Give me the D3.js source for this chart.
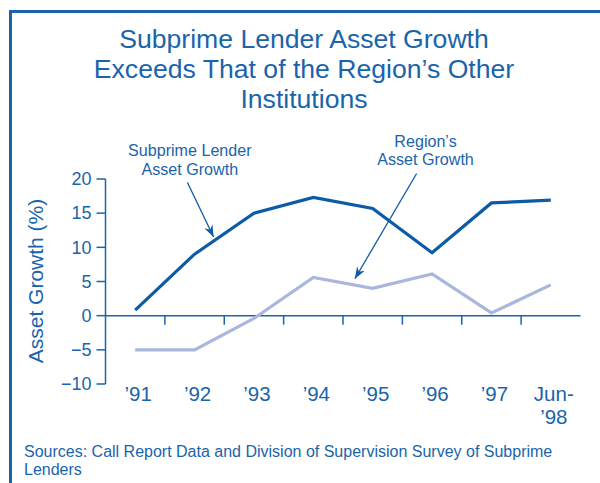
<!DOCTYPE html>
<html>
<head>
<meta charset="utf-8">
<script src="https://cdn.jsdelivr.net/npm/d3@7"></script>
<style>
  body { margin: 0; background: #fff; }
  text { font-family: "Liberation Sans", Arial, sans-serif; fill: #1a64ac; }
</style>
</head>
<body>
<div id="chart"></div>
<script>
// categories and series
var years = ["'91", "'92", "'93", "'94", "'95", "'96", "'97", "Jun-'98"];
var subprime = [0.8, 9.0, 15.0, 17.3, 15.7, 9.2, 16.5, 16.9];
var region = [-5.0, -5.0, -0.4, 5.6, 4.0, 6.1, 0.4, 4.5];
var yTicks = [-10, -5, 0, 5, 10, 15, 20];
var titleLines = ["Subprime Lender Asset Growth", "Exceeds That of the Region\u2019s Other", "Institutions"];

(function() {
	var width = 600, height = 483;
	var blue = "#1a64ac", dark = "#0c5ba6", light = "#aab7dc";

	var svg = d3.select("#chart")
		.append("svg")
		.attr("width", width)
		.attr("height", height);

	// frame (only top and left edges show)
	svg.append("path")
		.attr("d", "M10.5," + height + "V11.5H" + width)
		.attr("fill", "none")
		.attr("stroke", blue)
		.attr("stroke-width", 3);

	// title
	svg.append("g").selectAll("text")
		.data(titleLines)
		.enter()
		.append("text")
		.attr("x", 304)
		.attr("y", function(d, i) { return 48 + i * 29.8; })
		.attr("text-anchor", "middle")
		.attr("font-size", 26.6)
		.text(function(d) { return d; });

	// scales
	var xScale = d3.scaleBand().domain(years).range([105.5, 580.5]);
	var yScale = d3.scaleLinear().domain([-10, 20]).range([384, 179]);
	var cx = function(i) { return xScale(years[0]) + xScale.bandwidth() / 2 + i * xScale.step(); };

	// y axis
	var yAxis = svg.append("g").attr("transform", "translate(105.5,0)");
	yAxis.append("line")
		.attr("y1", yScale(-10)).attr("y2", yScale(20))
		.attr("stroke", blue).attr("stroke-width", 1.5);
	var yt = yAxis.selectAll("g.tick")
		.data(yTicks)
		.enter()
		.append("g")
		.attr("transform", function(d) { return "translate(0," + yScale(d) + ")"; });
	yt.append("line").attr("x1", -9).attr("x2", 0).attr("stroke", blue).attr("stroke-width", 1.5);
	yt.append("text")
		.attr("x", -14)
		.attr("dy", "0.35em")
		.attr("text-anchor", "end")
		.attr("font-size", 18)
		.text(function(d) { return d < 0 ? "\u2212" + Math.abs(d) : d; });

	svg.append("text")
		.attr("transform", "translate(43," + 281 + ") rotate(-90)")
		.attr("text-anchor", "middle")
		.attr("font-size", 21)
		.text("Asset Growth (%)");

	// x axis along zero, ticks between categories
	var xAxis = svg.append("g").attr("transform", "translate(0," + yScale(0) + ")");
	xAxis.append("line")
		.attr("x1", xScale.range()[0]).attr("x2", xScale.range()[1])
		.attr("stroke", blue).attr("stroke-width", 1.5);
	xAxis.selectAll("line.tick")
		.data(years.slice(1))
		.enter()
		.append("line")
		.attr("x1", function(d) { return xScale(d); })
		.attr("x2", function(d) { return xScale(d); })
		.attr("y1", 0).attr("y2", 9)
		.attr("stroke", blue).attr("stroke-width", 1.5);

	// category labels
	svg.append("g").selectAll("text")
		.data(years)
		.enter()
		.append("text")
		.attr("x", function(d) { return xScale(d) + xScale.bandwidth() / 2 + 3; })
		.attr("y", 401)
		.attr("text-anchor", "middle")
		.attr("font-size", 20.5)
		.each(function(d) {
			var parts = d.indexOf("-") > 0 ? [d.split("-")[0] + "-", d.split("-")[1]] : [d];
			var t = d3.select(this);
			parts.forEach(function(p, i) {
				t.append("tspan")
					.attr("x", t.attr("x"))
					.attr("dy", i === 0 ? 0 : 22.6)
					.text(p.replace("'", "\u2019"));
			});
		});

	// lines
	var line = d3.line()
		.x(function(d, i) { return xScale(years[i]) + xScale.bandwidth() / 2; })
		.y(function(d) { return yScale(d); });

	svg.append("path").datum(region)
		.attr("d", line)
		.attr("fill", "none").attr("stroke", light).attr("stroke-width", 3.2)
		.attr("stroke-linejoin", "miter");
	svg.append("path").datum(subprime)
		.attr("d", line)
		.attr("fill", "none").attr("stroke", dark).attr("stroke-width", 3.2)
		.attr("stroke-linejoin", "miter");

	// annotations
	svg.append("defs").append("marker")
		.attr("id", "head")
		.attr("viewBox", "-12 -6 14 12")
		.attr("refX", 0).attr("refY", 0)
		.attr("markerWidth", 14).attr("markerHeight", 12)
		.attr("markerUnits", "userSpaceOnUse")
		.attr("orient", "auto")
		.append("path")
		.attr("d", "M0,0L-12,-4.5L-8,0L-12,4.5Z")
		.attr("fill", dark);

	var notes = [
		{ lines: ["Subprime Lender", "Asset Growth"], tx: 0.92, ty: 156.4, from: [0.88, 19.5], to: [1.32, 11.5] },
		{ lines: ["Region\u2019s", "Asset Growth"], tx: 4.89, ty: 147.0, from: [4.74, 20.8], to: [3.70, 5.4] }
	];
	notes.forEach(function(n) {
		svg.append("line")
			.attr("x1", cx(n.from[0])).attr("y1", yScale(n.from[1]))
			.attr("x2", cx(n.to[0])).attr("y2", yScale(n.to[1]))
			.attr("stroke", dark).attr("stroke-width", 1.3)
			.attr("marker-end", "url(#head)");
		svg.append("g").selectAll("text")
			.data(n.lines)
			.enter()
			.append("text")
			.attr("x", cx(n.tx))
			.attr("y", function(d, i) { return n.ty + i * 18.1; })
			.attr("text-anchor", "middle")
			.attr("font-size", 16.1)
			.text(function(d) { return d; });
	});

	// source note
	svg.append("g").selectAll("text")
		.data(["Sources: Call Report Data and Division of Supervision Survey of Subprime", "Lenders"])
		.enter()
		.append("text")
		.attr("x", 24)
		.attr("y", function(d, i) { return 456.5 + i * 18; })
		.attr("font-size", 16)
		.text(function(d) { return d; });
})();
</script>
</body>
</html>
